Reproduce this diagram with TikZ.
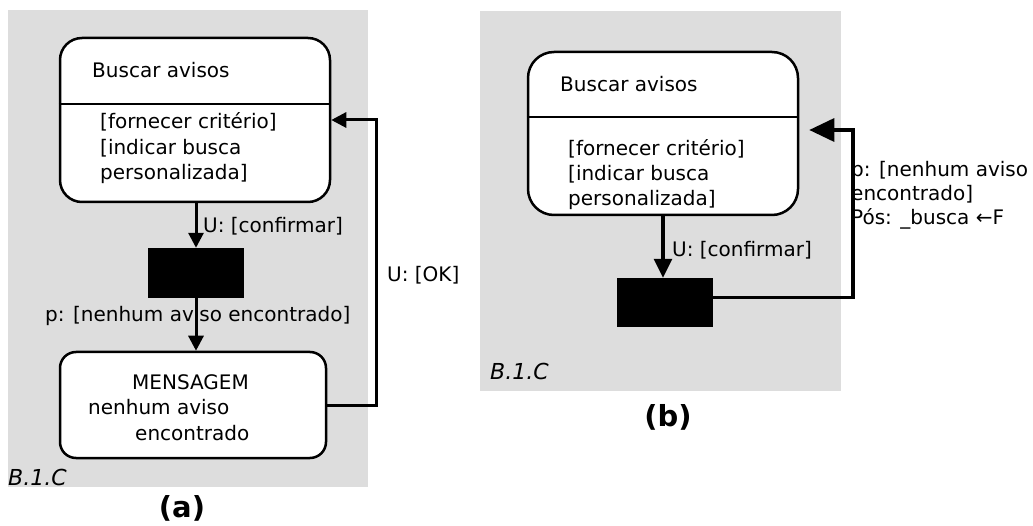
\documentclass[tikz,border=0pt]{standalone}
\usepackage{fontspec}
\setmainfont{DejaVu Sans}
\usetikzlibrary{arrows.meta}
\definecolor{panelgray}{RGB}{221,221,221}

\begin{document}
\begin{tikzpicture}[x=1pt, y=-1pt,
  statebox/.style={draw, line width=2.5pt, fill=white, rounded corners=#1, inner sep=0pt},
  bar/.style={fill=black, inner sep=0pt, minimum width=96pt},
  txt/.style={anchor=base west, inner sep=0pt, font=\fontsize{20}{25.5}\selectfont, align=left},
  tag/.style={anchor=base west, inner sep=0pt, font=\fontsize{22}{26}\selectfont\itshape},
  caption/.style={anchor=base, inner sep=0pt, font=\fontsize{29}{32}\selectfont\bfseries},
  flowA/.style={line width=3pt, -{Triangle[length=15pt,width=15pt]}},
  flowB/.style={line width=3.2pt, -{Triangle[length=19pt,width=18pt]}},
  backB/.style={line width=3.2pt, -{Triangle[length=25pt,width=23pt]}}]
  \useasboundingbox (0,0) rectangle (1033,526);

  % (a)
  \fill[panelgray] (8,10) rectangle (368,487);
  \node[statebox=22pt, minimum width=270pt, minimum height=164pt] (buscaA) at (195,120) {};
  \draw[line width=2.5pt] (buscaA.west |- 0,104) -- (buscaA.east |- 0,104);
  \node[txt] (titleA) at (92,78) {Buscar avisos};
  % multi-line texts: base = last line
  \node[txt] (actsA) at (100,180) {[fornecer critério]\\{}[indicar busca\\personalizada]};
  \node[bar, minimum height=50pt] (barA) at (196,273) {};
  \node[txt] (confA) at (203,233) {U: [confirmar]};
  \node[txt] (nenhumA) at (45,322) {p: [nenhum aviso encontrado]};
  \node[statebox=16pt, minimum width=266pt, minimum height=106pt] (msgA) at (193,405) {};
  \node[txt] (msgtxtA) at (88,440) {\hspace*{44pt}MENSAGEM\\nenhum aviso\\\hspace*{47pt}encontrado};
  \node[txt] (okA) at (387,282) {U: [OK]};
  \coordinate (retA) at (376,120);

  \draw[flowA] (barA.north |- buscaA.south) -- (barA.north);
  \draw[flowA] (barA.south) -- (barA.south |- msgA.north);
  \draw[flowA] (msgA.east) -| (retA) -- (buscaA.east |- retA);

  \node[tag] (tagA) at (8,485) {B.1.C};
  \node[caption] (capA) at (182,517) {(a)};

  % (b)
  \fill[panelgray] (480,11) rectangle (841,391);
  \node[statebox=26pt, minimum width=270pt, minimum height=163pt] (buscaB) at (663,133.5) {};
  \draw[line width=2.5pt] (buscaB.west |- 0,117) -- (buscaB.east |- 0,117);
  \node[txt] (titleB) at (560,92) {Buscar avisos};
  \node[txt, font=\fontsize{20}{25}\selectfont] (actsB) at (568,206) {[fornecer critério]\\{}[indicar busca\\personalizada]};
  \node[bar, minimum height=49pt] (barB) at (665,302.5) {};
  \node[txt] (confB) at (672,257) {U: [confirmar]};
  \node[txt, font=\fontsize{20}{24}\selectfont] (nenhumB) at (851,225) {p: [nenhum aviso\\encontrado]\\Pós: \_busca ←F};
  \coordinate (retB) at (853,130);

  \draw[flowB] (buscaB.south) -- (buscaB.south |- barB.north);
  \draw[backB] ([yshift=5pt]barB.east) -| (retB) -- ([xshift=10pt]buscaB.east |- retB);

  \node[tag] (tagB) at (490,379) {B.1.C};
  \node[caption] (capB) at (668,426) {(b)};
\end{tikzpicture}
\end{document}
